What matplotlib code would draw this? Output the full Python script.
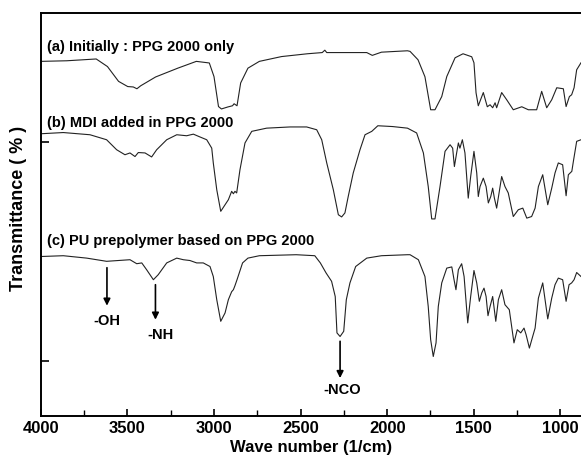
import matplotlib
matplotlib.use("Agg")
import matplotlib.pyplot as plt
import numpy as np

plt.rcParams['font.family'] = ['Liberation Sans', 'DejaVu Sans']
plt.rcParams['font.weight'] = 'bold'

# (a) Initially : PPG 2000 only
wn_a = [4000, 3850, 3680, 3615, 3551, 3498, 3466, 3445, 3423, 3337, 3209, 3102, 3027, 3000,
        2974, 2957, 2920, 2893, 2884, 2867, 2846, 2804, 2738, 2610, 2461, 2375, 2360, 2349,
        2118, 2086, 2033, 1883, 1868, 1822, 1782, 1749, 1724, 1685, 1656, 1608, 1562, 1512,
        1499, 1487, 1474, 1445, 1422, 1406, 1391, 1377, 1368, 1339, 1310, 1272, 1223, 1185,
        1137, 1108, 1079, 1050, 1021, 983, 967, 948, 935, 921, 906, 881]
t_a = [88.6, 88.75, 89.2, 87.3, 83.6, 82.3, 82.2, 81.75, 82.5, 84.7, 86.9, 88.6, 88.2, 84.8,
       77.3, 76.7, 77.2, 77.5, 78.0, 77.5, 83.2, 86.9, 88.6, 89.8, 90.5, 90.8, 91.4, 90.8,
       90.8, 90.1, 90.9, 91.25, 91.1, 89.0, 84.75, 76.5, 76.5, 79.8, 84.8, 89.5, 90.5, 89.75,
       88.25, 80.75, 77.5, 80.8, 77.25, 77.75, 77.0, 78.25, 77.0, 80.8, 79.0, 76.5, 77.25, 76.5,
       76.5, 81.1, 77.0, 79.0, 82.0, 81.75, 77.3, 79.8, 80.25, 82.0, 86.5, 88.25]

# (b) MDI added in PPG 2000
wn_b = [4000, 3870, 3716, 3620, 3562, 3514, 3485, 3456, 3437, 3398, 3360, 3331, 3273, 3215,
        3158, 3119, 3081, 3042, 3013, 3004, 2984, 2961, 2936, 2917, 2898, 2888, 2879, 2869,
        2850, 2821, 2782, 2696, 2561, 2465, 2407, 2378, 2349, 2311, 2282, 2263, 2244, 2225,
        2196, 2157, 2128, 2089, 2054, 1969, 1883, 1830, 1791, 1763, 1743, 1724, 1695, 1666,
        1637, 1622, 1612, 1599, 1589, 1580, 1566, 1551, 1532, 1518, 1499, 1483, 1474, 1464,
        1445, 1429, 1416, 1402, 1391, 1381, 1368, 1339, 1320, 1301, 1272, 1243, 1217, 1194,
        1166, 1146, 1127, 1102, 1073, 1050, 1031, 1012, 987, 967, 954, 934, 925, 906, 881]
t_b = [70.5, 70.8, 70.25, 69.0, 66.5, 65.25, 65.7, 64.8, 65.8, 65.7, 64.7, 66.5, 69.0, 70.25,
       70.0, 70.4, 69.7, 69.0, 66.9, 63.2, 56.5, 51.1, 52.75, 54.0, 56.1, 55.5, 56.1, 55.7,
       61.5, 68.2, 71.1, 71.9, 72.2, 72.2, 71.5, 69.0, 63.2, 56.5, 50.25, 49.7, 50.7, 54.8,
       60.7, 66.5, 70.25, 71.1, 72.5, 72.3, 71.9, 70.7, 65.7, 57.3, 49.2, 49.2, 57.3, 66.1,
       67.75, 66.9, 62.3, 65.7, 68.2, 66.9, 69.0, 65.7, 54.4, 59.8, 66.1, 60.7, 54.8, 57.3,
       59.4, 57.3, 53.2, 54.8, 56.9, 54.4, 51.9, 59.8, 57.3, 55.7, 49.8, 51.5, 51.9, 49.4,
       49.8, 51.9, 57.3, 60.25, 52.75, 56.9, 60.7, 63.2, 62.75, 55.0, 60.25, 61.1, 63.6, 68.6, 69.0]

# (c) PU prepolymer based on PPG 2000
wn_c = [4000, 3870, 3735, 3620, 3485, 3446, 3417, 3389, 3350, 3322, 3273, 3215, 3177, 3139,
        3100, 3062, 3023, 3004, 2984, 2961, 2936, 2917, 2898, 2888, 2879, 2867, 2835, 2804,
        2738, 2525, 2418, 2386, 2353, 2321, 2300, 2290, 2272, 2251, 2236, 2215, 2182, 2118,
        2033, 1883, 1868, 1820, 1782, 1763, 1749, 1734, 1718, 1705, 1685, 1656, 1627, 1614,
        1603, 1589, 1570, 1556, 1535, 1518, 1499, 1483, 1468, 1454, 1441, 1429, 1418, 1406,
        1391, 1373, 1358, 1339, 1320, 1295, 1268, 1249, 1229, 1210, 1198, 1179, 1160, 1146,
        1127, 1102, 1073, 1050, 1031, 1012, 987, 967, 950, 935, 921, 906, 881]
t_c = [39.8, 40.0, 39.4, 38.6, 39.0, 38.0, 38.2, 36.5, 34.0, 35.25, 38.2, 39.4, 39.0, 38.8,
       38.2, 38.2, 37.3, 34.8, 29.0, 23.6, 25.7, 29.0, 31.0, 31.5, 32.5, 34.0, 38.2, 39.4,
       40.0, 40.25, 40.0, 38.2, 35.7, 33.6, 29.8, 20.7, 19.8, 21.1, 29.0, 33.2, 37.3, 39.4,
       40.0, 40.25, 40.25, 39.0, 34.8, 27.3, 19.0, 14.8, 18.2, 27.3, 33.2, 36.9, 37.2, 34.0,
       31.5, 36.5, 38.0, 34.8, 23.2, 29.8, 36.3, 33.2, 28.6, 30.7, 31.9, 29.8, 25.0, 27.3,
       29.8, 23.6, 29.0, 31.5, 27.75, 26.5, 18.2, 21.5, 20.7, 21.9, 20.25, 16.9, 19.8, 21.9,
       29.4, 33.2, 24.2, 29.4, 32.75, 34.4, 34.0, 28.6, 32.75, 33.2, 34.0, 35.8, 34.8]

curve_labels = ["(a) Initially : PPG 2000 only",
                "(b) MDI added in PPG 2000",
                "(c) PU prepolymer based on PPG 2000"]
label_pos = [(3962, 92.3), (3962, 73.2), (3962, 43.6)]

peak_names = ["-OH", "-NH", "-NCO"]
peak_wn = [3618, 3338, 2272]
arrow_from = [37.0, 32.75, 18.6]
arrow_to = [27.5, 24.0, 9.4]
text_xy = [(3620, 23.6), (3307, 20.25), (2259, 6.5)]

x_ticks = [4000, 3500, 3000, 2500, 2000, 1500, 1000]

fig = plt.figure(figsize=(5.81, 4.66), dpi=100)
ax = fig.add_axes([0.0702, 0.108, 0.9298, 0.865])

for wn, t in [(wn_a, t_a), (wn_b, t_b), (wn_c, t_c)]:
    ax.plot(wn, t, color='#222222', lw=0.8)

for lab, (x, y) in zip(curve_labels, label_pos):
    ax.text(x, y, lab, fontsize=10.5, fontweight='bold', ha='left', va='center')

for name, w, y0, y1, (tx, ty) in zip(peak_names, peak_wn, arrow_from, arrow_to, text_xy):
    ax.annotate('', xy=(w, y1), xytext=(w, y0),
                arrowprops=dict(arrowstyle='-|>', color='black', lw=1.2,
                                mutation_scale=10, shrinkA=0, shrinkB=0))
    ax.text(tx, ty, name, fontsize=10.5, fontweight='bold', ha='center', va='center')

ax.set_xlim(4000, 881)
ax.set_ylim(0, 100.8)
ax.set_xticks(x_ticks)
ax.set_xticks([3750, 3250, 2750, 2250, 1750, 1250], minor=True)
ax.set_yticks([13.6, 68.5])
ax.set_yticklabels([])
ax.tick_params(axis='x', which='major', direction='in', length=5, width=1.2,
               labelsize=12, pad=4)
ax.tick_params(axis='x', which='minor', direction='in', length=4, width=1.0)
ax.tick_params(axis='y', which='major', direction='in', length=6, width=1.2)
for lbl in ax.get_xticklabels():
    lbl.set_fontweight('bold')

ax.spines['right'].set_visible(False)
for s in ['left', 'top', 'bottom']:
    ax.spines[s].set_linewidth(1.4)

ax.set_xlabel('Wave number (1/cm)', fontsize=12, fontweight='bold', labelpad=3)
fig.text(18.5 / 581, 1 - 208 / 466, 'Transmittance ( % )', fontsize=13, fontweight='bold',
         rotation=90, ha='center', va='center')

fig.savefig('out.png', dpi=100)
